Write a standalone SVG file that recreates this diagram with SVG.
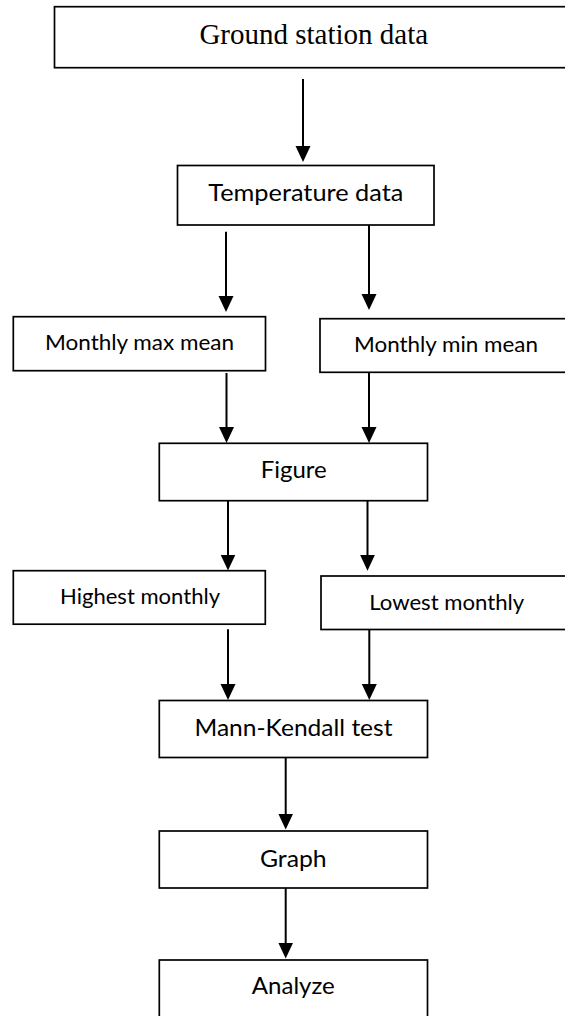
<svg xmlns="http://www.w3.org/2000/svg" width="565" height="1016" viewBox="0 0 565 1016">
<style>
.box{fill:#fff;stroke:#000;stroke-width:1.7}
.t{font-family:Lato,"Open Sans","Liberation Sans",sans-serif;fill:#000;text-anchor:middle}
.big{font-size:23.7px}
.sm{font-size:21.6px}
.serif{font-family:"Liberation Serif","Times New Roman",serif;font-size:29px;fill:#000;text-anchor:middle}
.c{stroke:#000;stroke-width:2;fill:none;marker-end:url(#ah)}
</style>
<defs>
<marker id="ah" markerUnits="userSpaceOnUse" markerWidth="16" markerHeight="16" viewBox="0 0 16 15" refX="8" refY="7.5" orient="auto">
<path d="M0,0 L16,7.5 L0,15 Z" fill="#000"/>
</marker>
</defs>
<rect width="565" height="1016" fill="#fff"/>
<g id="connectors">
<path class="c" d="M303,79 V154"/>
<path class="c" d="M226,231.7 V304"/>
<path class="c" d="M369,225 V302"/>
<path class="c" d="M226.5,373 V435"/>
<path class="c" d="M369,372.3 V435"/>
<path class="c" d="M228,500.7 V562.5"/>
<path class="c" d="M367.5,500.7 V562.7"/>
<path class="c" d="M228,629.3 V692"/>
<path class="c" d="M369.3,629.3 V692"/>
<path class="c" d="M285.7,757 V821.5"/>
<path class="c" d="M285.7,888 V950.5"/>
</g>
<g id="ground">
<rect class="box" x="54.5" y="6.7" width="530" height="61"/>
<text class="serif" x="313.8" y="44.3">Ground station data</text>
</g>
<g id="temperature">
<rect class="box" x="177.5" y="165.5" width="256.5" height="59.5"/>
<text class="t big" x="305.8" y="201" textLength="195" lengthAdjust="spacingAndGlyphs">Temperature data</text>
</g>
<g id="maxmean">
<rect class="box" x="13.3" y="316.7" width="252.2" height="54"/>
<text class="t sm" x="139.5" y="350" textLength="189" lengthAdjust="spacingAndGlyphs">Monthly max mean</text>
</g>
<g id="minmean">
<rect class="box" x="320" y="318.7" width="260" height="53.6"/>
<text class="t sm" x="446" y="352.3" textLength="184" lengthAdjust="spacingAndGlyphs">Monthly min mean</text>
</g>
<g id="figure">
<rect class="box" x="159.3" y="443.3" width="268.2" height="57.4"/>
<text class="t big" x="293.7" y="478.3" textLength="66" lengthAdjust="spacingAndGlyphs">Figure</text>
</g>
<g id="highest">
<rect class="box" x="13.3" y="570.7" width="252" height="53.5"/>
<text class="t sm" x="140" y="604.3" textLength="160" lengthAdjust="spacingAndGlyphs">Highest monthly</text>
</g>
<g id="lowest">
<rect class="box" x="321" y="576" width="260" height="53.5"/>
<text class="t sm" x="446.7" y="610" textLength="155" lengthAdjust="spacingAndGlyphs">Lowest monthly</text>
</g>
<g id="mannkendall">
<rect class="box" x="159.3" y="700.5" width="268.2" height="57"/>
<text class="t big" x="293.5" y="736" textLength="198" lengthAdjust="spacingAndGlyphs">Mann-Kendall test</text>
</g>
<g id="graph">
<rect class="box" x="159.3" y="831" width="268.2" height="57"/>
<text class="t big" x="293.3" y="866.7" textLength="66.7" lengthAdjust="spacingAndGlyphs">Graph</text>
</g>
<g id="analyze">
<rect class="box" x="159.3" y="960" width="268.2" height="70"/>
<text class="t big" x="293.3" y="994.3" textLength="83" lengthAdjust="spacingAndGlyphs">Analyze</text>
</g>
</svg>
